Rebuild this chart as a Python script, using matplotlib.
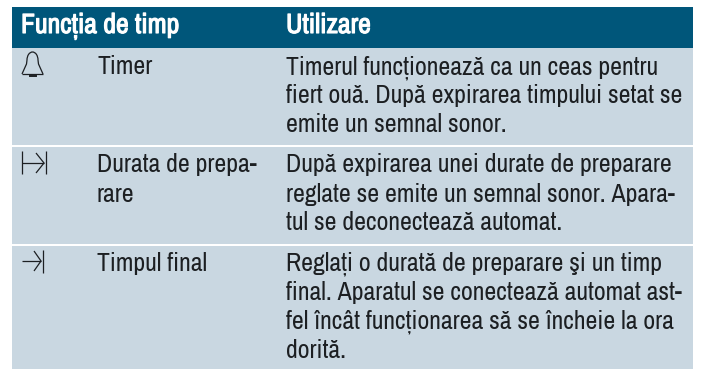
import matplotlib
matplotlib.use("Agg")
import matplotlib.pyplot as plt
import matplotlib.patheffects as pe
from matplotlib.patches import Rectangle, Arc

HEADER = ["Funcția de timp", "Utilizare"]
NAMES = [["Timer"], ["Durata de prepa-", "rare"], ["Timpul final"]]
USES = [
    ["Timerul funcționează ca un ceas pentru", "fiert ouă. După expirarea timpului setat se", "emite un semnal sonor."],
    ["După expirarea unei durate de preparare", "reglate se emite un semnal sonor. Apara-", "tul se deconectează automat."],
    ["Reglați o durată de preparare şi un timp", "final. Aparatul se conectează automat ast-", "fel încât funcționarea să se încheie la ora", "dorită."],
]
ROW_TOPS = [48, 147, 246]
ROW_BOTTOMS = [145, 244, 369]
FIRST_BASE = [74, 172.5, 271]
STEP = 29

FAM = ["Archivo Narrow", "PT Sans Narrow", "Liberation Sans", "DejaVu Sans"]
INK = "#1c1f22"
fig = plt.figure(figsize=(7.02, 3.69), dpi=100)
ax = fig.add_axes([0, 0, 1, 1])
ax.set_xlim(0, 702); ax.set_ylim(369, 0); ax.axis("off")

ax.add_patch(Rectangle((12, 7), 681, 41, fc="#00567a", ec="none"))
for t, b in zip(ROW_TOPS, ROW_BOTTOMS):
    ax.add_patch(Rectangle((12, t), 681, b - t, fc="#c9d7e1", ec="none"))

for x, s in zip((21, 286), HEADER):
    ax.text(x, 33, s, color="white", fontsize=20, family=FAM, va="baseline",
            path_effects=[pe.withStroke(linewidth=0.8, foreground="white")])
for names, uses, base in zip(NAMES, USES, FIRST_BASE):
    for i, s in enumerate(names):
        ax.text(97, base + i * STEP, s, color=INK, fontsize=18.6, family=FAM, va="baseline")
    for i, s in enumerate(uses):
        ax.text(286, base + i * STEP, s, color=INK, fontsize=18.6, family=FAM, va="baseline")

k = dict(color=INK, lw=0.9, solid_capstyle="butt")
# bell
ax.plot([22, 43], [74, 74], **k)
ax.plot([22, 26.5, 27], [74, 64, 60], **k)
ax.plot([43, 38.5, 38], [74, 64, 60], **k)
ax.add_patch(Arc((32.5, 60), 11, 16, theta1=180, theta2=360, color=INK, lw=0.9))
ax.plot([29.5, 35.5], [75.5, 75.5], color=INK, lw=1.4)
# duration symbol
ax.plot([22, 22], [151, 174], **k)
ax.plot([46, 46], [151, 174], **k)
ax.plot([22, 44], [163, 163], **k)
ax.plot([36, 44, 36], [153, 163, 173], **k)
# end time symbol
ax.plot([22, 41], [261, 261], **k)
ax.plot([34, 41, 34], [251, 261, 271], **k)
ax.plot([43, 43], [250, 273], **k)

fig.savefig("out.png", dpi=100)
